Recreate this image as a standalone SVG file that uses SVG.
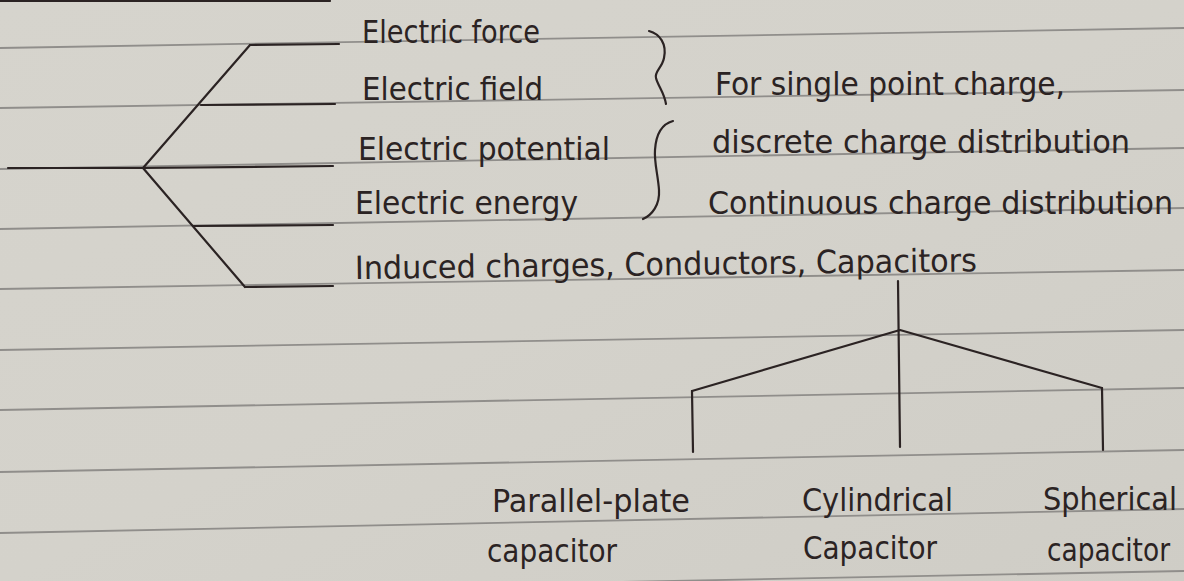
<svg xmlns="http://www.w3.org/2000/svg" width="1184" height="581" viewBox="0 0 1184 581">
  <defs>
    <linearGradient id="paper" x1="0" y1="0" x2="1" y2="1">
      <stop offset="0" stop-color="#d6d4cd"/>
      <stop offset="0.5" stop-color="#d4d2cb"/>
      <stop offset="1" stop-color="#cfcdc6"/>
    </linearGradient>
  </defs>
  <style>
    .rule { stroke: #908e8b; stroke-width: 1.8; fill: none; }
    .ink { stroke: #2b2323; stroke-width: 2.2; fill: none; stroke-linecap: round; stroke-linejoin: round; }
    .txt { font-family: "Liberation Sans Narrow", "DejaVu Sans Condensed", "Liberation Sans", sans-serif; font-size: 32px; fill: #2b2323; }
  </style>

  <rect width="1184" height="581" fill="url(#paper)"/>

  <g id="ruled-lines">
    <line class="rule" x1="0" y1="48" x2="1184" y2="28"/>
    <line class="rule" x1="0" y1="108" x2="1184" y2="90"/>
    <line class="rule" x1="0" y1="169" x2="1184" y2="148"/>
    <line class="rule" x1="0" y1="229" x2="1184" y2="208"/>
    <line class="rule" x1="0" y1="289" x2="1184" y2="270"/>
    <line class="rule" x1="0" y1="350" x2="1184" y2="330"/>
    <line class="rule" x1="0" y1="410" x2="1184" y2="388"/>
    <line class="rule" x1="0" y1="472" x2="1184" y2="450"/>
    <line class="rule" x1="0" y1="533" x2="1184" y2="509"/>
    <line class="rule" x1="0" y1="594" x2="1184" y2="571"/>
    <line class="ink" x1="0" y1="1" x2="330" y2="1"/>
  </g>

  <g id="connectors">
    <line class="ink" x1="8" y1="168" x2="143" y2="168"/>
    <polyline class="ink" points="250,45 143,168 245,287"/>
    <line class="ink" x1="250" y1="45" x2="339" y2="44"/>
    <line class="ink" x1="201" y1="105" x2="335" y2="104"/>
    <line class="ink" x1="143" y1="168" x2="333" y2="166"/>
    <line class="ink" x1="193" y1="226" x2="333" y2="225"/>
    <line class="ink" x1="245" y1="287" x2="333" y2="286"/>
    <path class="ink" d="M649,31 C660,34 667,44 664,58 C662,68 654,72 656,78 C658,86 664,92 666,104"/>
    <path class="ink" d="M673,121 C662,124 656,134 655,150 C654,162 658,175 659,190 C660,205 652,215 643,219"/>
    <line class="ink" x1="898" y1="281" x2="900" y2="447"/>
    <polyline class="ink" points="692,391 900,330 1102,388"/>
    <line class="ink" x1="692" y1="391" x2="693" y2="452"/>
    <line class="ink" x1="1102" y1="388" x2="1103" y2="450"/>
  </g>

  <g id="node-electric-force"><text class="txt" x="362" y="43" textLength="178" lengthAdjust="spacingAndGlyphs">Electric force</text></g>
  <g id="node-electric-field"><text class="txt" x="362" y="100" textLength="181" lengthAdjust="spacingAndGlyphs">Electric field</text></g>
  <g id="node-electric-potential"><text class="txt" x="358" y="160" textLength="252" lengthAdjust="spacingAndGlyphs">Electric potential</text></g>
  <g id="node-electric-energy"><text class="txt" x="355" y="214" textLength="223" lengthAdjust="spacingAndGlyphs">Electric energy</text></g>
  <g id="node-induced"><text class="txt" x="355" y="279" textLength="622" lengthAdjust="spacingAndGlyphs" transform="rotate(-0.7 355 279)">Induced charges, Conductors, Capacitors</text></g>

  <g id="node-point-charge"><text class="txt" x="715" y="95" textLength="350" lengthAdjust="spacingAndGlyphs">For single point charge,</text></g>
  <g id="node-discrete"><text class="txt" x="712" y="153" textLength="418" lengthAdjust="spacingAndGlyphs">discrete charge distribution</text></g>
  <g id="node-continuous"><text class="txt" x="708" y="214" textLength="465" lengthAdjust="spacingAndGlyphs">Continuous charge distribution</text></g>

  <g id="node-parallel-plate">
    <text class="txt" x="492" y="512" textLength="198" lengthAdjust="spacingAndGlyphs">Parallel-plate</text>
    <text class="txt" x="487" y="562" textLength="130" lengthAdjust="spacingAndGlyphs">capacitor</text>
  </g>
  <g id="node-cylindrical">
    <text class="txt" x="802" y="511" textLength="151" lengthAdjust="spacingAndGlyphs">Cylindrical</text>
    <text class="txt" x="803" y="559" textLength="134" lengthAdjust="spacingAndGlyphs">Capacitor</text>
  </g>
  <g id="node-spherical">
    <text class="txt" x="1043" y="510" textLength="134" lengthAdjust="spacingAndGlyphs">Spherical</text>
    <text class="txt" x="1047" y="561" textLength="123" lengthAdjust="spacingAndGlyphs">capacitor</text>
  </g>
</svg>
